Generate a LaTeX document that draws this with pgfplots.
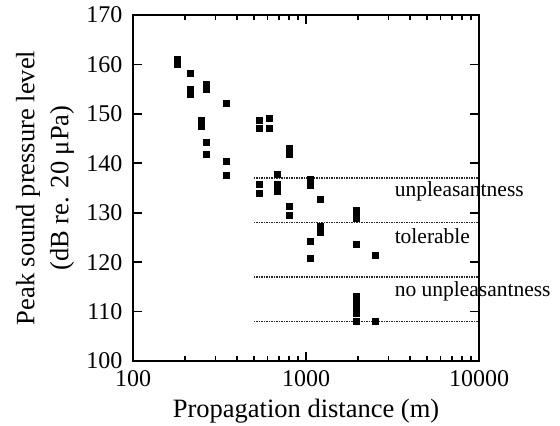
\documentclass[border=0pt]{standalone}
\usepackage{fontspec}
\setmainfont{Liberation Serif}
\usepackage{pgfplots}
\pgfplotsset{compat=1.18}
\pgfkeys{/pgf/number format/assume math mode=true}

\begin{document}
\begin{tikzpicture}
\useasboundingbox (-133pt,-65pt) rectangle (427pt,361pt);
\begin{axis}[
    at={(0pt,0pt)}, anchor=south west,
    scale only axis,
    width=346pt, height=346pt,
    xmode=log,
    xmin=100, xmax=10000,
    ymin=100, ymax=170,
    xtick={100,1000,10000},
    xticklabels={100,1000,10000},
    minor xtick={200,300,400,500,600,700,800,900,2000,3000,4000,5000,6000,7000,8000,9000},
    ytick={100,110,...,170},
    yticklabels={100,110,120,130,140,150,160,170},
    yticklabel style={xshift=-7pt, font=\fontsize{24}{28}\selectfont},
    xticklabel style={yshift=-6pt, font=\fontsize{24}{28}\selectfont},
    xlabel={Propagation distance (m)},
    xlabel style={font=\fontsize{26.5}{30}\selectfont, at={(axis description cs:0.5,-0.145)}, anchor=center},
    ylabel={Peak sound pressure level\\(dB re. 20 μPa)},
    ylabel style={font=\fontsize{26.5}{34}\selectfont, align=center, at={(axis description cs:-0.254,0.5)}, anchor=center},
    clip=false,
    axis on top,
    tick align=inside,
    major tick length=9pt,
    minor tick length=5pt,
    every tick/.append style={black, line width=1.6pt},
    axis line style={line width=2.8pt, black},
]
% measured points (distance m, peak SPL dB)
\addplot[only marks, mark=square*, mark size=3pt, black] coordinates {
(179,161.0) (179,160.0) (214,158.2) (214,155.0) (214,154.0)
(264,156.0) (264,154.9) (348,152.1) (248,148.7) (248,147.6)
(264,144.2) (264,141.9) (348,140.4) (348,137.5) (537,148.8)
(537,147.2) (614,149.2) (614,147.2) (801,143.0) (801,141.8)
(537,135.8) (537,134.0) (682,137.7) (682,135.8) (682,134.3)
(1060,136.8) (1060,135.5) (1216,132.7) (801,131.4) (801,129.5)
(1216,127.3) (1216,126.0) (1060,124.3) (1060,120.8) (1950,130.5)
(1950,129.7) (1950,128.9) (1950,123.7) (2520,121.5) (1950,113.1)
(1950,112.0) (1950,110.8) (1950,109.6) (1950,108.0) (2520,108.0)
};

\addplot[black!85, line width=1.6pt, dash pattern=on 1.5pt off 1pt] coordinates {(500,137) (10000,137)};
\addplot[black!85, line width=1.6pt, dash pattern=on 1.5pt off 1pt] coordinates {(500,128) (10000,128)};
\addplot[black!85, line width=1.6pt, dash pattern=on 1.5pt off 1pt] coordinates {(500,117) (10000,117)};
\addplot[black!85, line width=1.6pt, dash pattern=on 1.5pt off 1pt] coordinates {(500,108) (10000,108)};

% frame and inward ticks
\draw[line width=2.8pt] (rel axis cs:0,0) rectangle (rel axis cs:1,1);
\pgfplotsinvokeforeach{110,120,130,140,150,160}{
  \draw[line width=1.6pt] (axis cs:100,#1) -- ++(9pt,0pt);
  \draw[line width=1.6pt] (axis cs:10000,#1) -- ++(-9pt,0pt);
}
\pgfplotsinvokeforeach{200,300,400,500,600,700,800,900,2000,3000,4000,5000,6000,7000,8000,9000}{
  \draw[line width=1.6pt] (axis cs:#1,100) -- ++(0pt,5pt);
  \draw[line width=1.6pt] (axis cs:#1,170) -- ++(0pt,-5pt);
}
\draw[line width=1.6pt] (axis cs:1000,100) -- ++(0pt,9pt);
\draw[line width=1.6pt] (axis cs:1000,170) -- ++(0pt,-9pt);

\node[anchor=base west, inner sep=0pt, font=\fontsize{21.5}{25}\selectfont] at (axis cs:3250,133.3) {unpleasantness};
\node[anchor=base west, inner sep=0pt, font=\fontsize{21.5}{25}\selectfont] at (axis cs:3250,123.7) {tolerable};
\node[anchor=base west, inner sep=0pt, font=\fontsize{21.5}{25}\selectfont] at (axis cs:3250,113.0) {no unpleasantness};
\end{axis}
\end{tikzpicture}
\end{document}
